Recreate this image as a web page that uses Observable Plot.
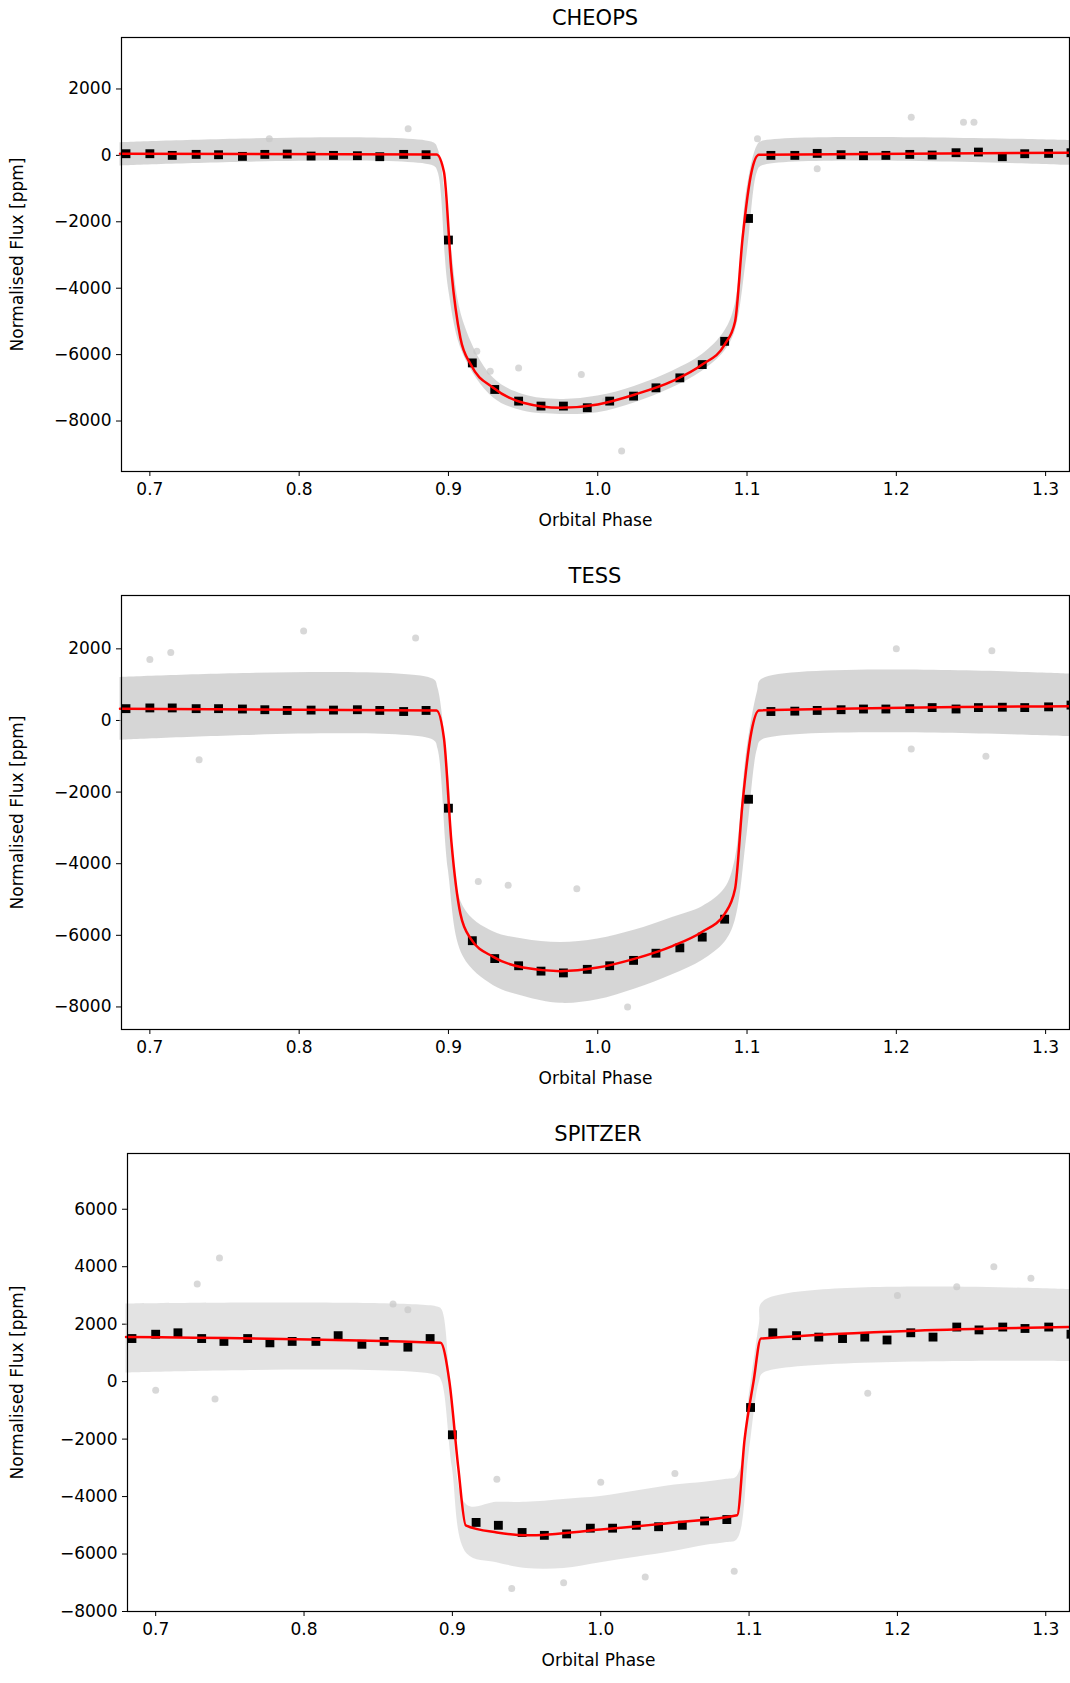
<!DOCTYPE html>
<html><head><meta charset="utf-8">
<script src="https://cdn.jsdelivr.net/npm/d3@7"></script>
<script src="https://cdn.jsdelivr.net/npm/@observablehq/plot@0.6"></script>
<style>body{margin:0;background:#fff;font-family:"DejaVu Sans",sans-serif}#c{width:1070px}svg{display:block}</style>
</head><body><div id="c"></div>
<script>
const binPhase=[0.684,0.700,0.715,0.731,0.746,0.762,0.777,0.792,0.808,0.823,0.839,0.854,0.870,0.885,0.900,0.916,0.931,0.947,0.962,0.977,0.993,1.008,1.024,1.039,1.055,1.070,1.085,1.101,1.116,1.132,1.147,1.163,1.178,1.193,1.209,1.224,1.240,1.255,1.271,1.286,1.302,1.317];
const cheopsBin=[50,50,0,30,20,-30,30,40,-20,0,-10,-40,30,20,-2550,-6250,-7050,-7400,-7550,-7550,-7600,-7400,-7250,-7000,-6700,-6300,-5600,-1900,0,0,60,20,-10,0,30,10,80,100,-40,50,60,80];
const tessBin=[330,350,350,330,330,320,300,280,290,290,300,280,250,280,-2450,-6150,-6650,-6850,-7000,-7050,-6950,-6850,-6700,-6500,-6350,-6050,-5550,-2200,250,260,280,300,320,320,330,360,320,360,370,360,380,430];
const spitzerBin=[1500,1650,1700,1500,1400,1500,1350,1400,1400,1600,1300,1400,1200,1500,-1850,-4900,-5000,-5250,-5350,-5300,-5100,-5100,-5000,-5050,-5000,-4850,-4800,-900,1700,1600,1550,1500,1550,1450,1700,1550,1900,1800,1900,1850,1900,1650];

const cheopsModelX=[0.68,0.892,0.897,0.902,0.908,0.915,0.93,0.95,0.975,1.0,1.025,1.05,1.07,1.085,1.092,1.097,1.103,1.108,1.316];
const cheopsModelY=[50,30,-500,-3500,-5500,-6300,-7000,-7450,-7600,-7500,-7200,-6800,-6300,-5700,-5000,-2500,-500,20,80];
const tessModelX=cheopsModelX;
const tessModelY=[330,280,-500,-3400,-5400,-6100,-6600,-6900,-7000,-6900,-6650,-6300,-5900,-5400,-4700,-2300,-300,280,400];
const spitzerModelX=[0.68,0.892,0.898,0.904,0.909,0.93,0.95,1.0,1.05,1.092,1.097,1.103,1.108,1.316];
const spitzerModelY=[1550,1350,0,-3000,-5000,-5250,-5350,-5150,-4900,-4650,-2000,0,1500,1900];

const bandX=[0.68,0.89,0.893,0.9,0.91,0.93,0.95,0.975,1.0,1.025,1.05,1.07,1.085,1.092,1.1,1.107,1.11,1.316];
const cheopsLo=[-320,-320,-500,-4000,-6000,-7300,-7700,-7800,-7750,-7450,-7000,-6500,-5900,-5300,-3000,-500,-320,-300];
const cheopsHi=[380,380,200,-2000,-5000,-6700,-7200,-7350,-7250,-6950,-6500,-6000,-5300,-4500,-1000,300,420,450];
const tessLo=[-550,-550,-800,-4200,-6600,-7400,-7700,-7900,-7800,-7500,-7100,-6700,-6200,-5600,-3200,-800,-550,-450];
const tessHi=[1200,1150,900,-1500,-5200,-5900,-6100,-6200,-6100,-5850,-5500,-5200,-4700,-3900,-800,800,1150,1300];
const spitzerLo=[300,200,0,-3000,-6000,-6300,-6500,-6500,-6300,-6100,-5900,-5700,-5600,-5500,-2500,0,300,700];
const spitzerHi=[2700,2600,2500,-1000,-4300,-4200,-4200,-4100,-4000,-3800,-3600,-3500,-3400,-3300,-500,2000,2800,3200];

const cheopsOutX=[0.780,0.873,0.919,0.928,0.947,0.989,1.005,1.016,1.210,1.245,1.252,1.107,1.147];
const cheopsOutY=[500,800,-5900,-6500,-6400,-6600,-7400,-8900,1150,1000,1000,500,-400];
const tessOutX=[0.714,0.7,0.803,0.878,0.733,0.92,0.94,0.986,1.02,1.2,1.264,1.21,1.26];
const tessOutY=[1900,1700,2500,2300,-1100,-4500,-4600,-4700,-8000,2000,1950,-800,-1000];
const spitzerOutX=[0.743,0.728,0.7,0.86,0.87,0.93,0.94,0.975,1.0,1.03,1.09,1.05,1.18,1.265,1.29,1.24,1.2,0.74];
const spitzerOutY=[4300,3400,-300,2700,2500,-3400,-7200,-7000,-3500,-6800,-6600,-3200,-400,4000,3600,3300,3000,-600];

const panels=[
 {title:"CHEOPS",h:557,mt:37,mb:86,ml:121,yd:[-9520,3550],yt:[2000,0,-2000,-4000,-6000,-8000],bin:cheopsBin,mx:cheopsModelX,my:cheopsModelY,lo:cheopsLo,hi:cheopsHi,ox:cheopsOutX,oy:cheopsOutY,op:0.75},
 {title:"TESS",h:557,mt:38,mb:85,ml:121,yd:[-8630,3490],yt:[2000,0,-2000,-4000,-6000,-8000],bin:tessBin,mx:tessModelX,my:tessModelY,lo:tessLo,hi:tessHi,ox:tessOutX,oy:tessOutY,op:0.75},
 {title:"SPITZER",h:569,mt:39,mb:72,ml:127,yd:[-8000,7940],yt:[6000,4000,2000,0,-2000,-4000,-6000,-8000],bin:spitzerBin,mx:spitzerModelX,my:spitzerModelY,lo:spitzerLo,hi:spitzerHi,ox:spitzerOutX,oy:spitzerOutY,op:0.5}
];
const xt=[0.7,0.8,0.9,1.0,1.1,1.2,1.3];
const yf=d=>d<0?"\u2212"+Math.abs(d):String(d);
for(const p of panels){
  const model=p.mx.map((x,i)=>({x,y:p.my[i]}));
  const band=bandX.map((x,i)=>({x,lo:p.lo[i],hi:p.hi[i]}));
  const bins=binPhase.map((x,i)=>({x,y:p.bin[i]}));
  const outs=p.ox.map((x,i)=>({x,y:p.oy[i]}));
  const svg=Plot.plot({
    width:1070,height:p.h,marginTop:p.mt,marginBottom:p.mb,marginLeft:p.ml,marginRight:1,
    style:{fontFamily:"DejaVu Sans",fontSize:"17px",color:"#000",background:"#fff"},
    x:{domain:[0.681,1.316],ticks:xt,tickFormat:d3.format(".1f"),label:"Orbital Phase",labelAnchor:"center",labelArrow:"none",labelOffset:54,tickSize:5,tickPadding:6},
    y:{domain:p.yd,ticks:p.yt,tickFormat:yf,label:"Normalised Flux [ppm]",labelAnchor:"center",labelArrow:"none",labelOffset:p.ml-10,tickSize:5,tickPadding:5},
    marks:[
      Plot.areaY(band,{x:"x",y1:"lo",y2:"hi",fill:"#c8c8c8",fillOpacity:p.op,curve:"catmull-rom"}),
      Plot.dot(outs,{x:"x",y:"y",r:3.5,fill:"#c8c8c8",fillOpacity:0.7}),
      Plot.dot(bins,{x:"x",y:"y",symbol:"square",r:5,fill:"#000"}),
      Plot.line(model,{x:"x",y:"y",stroke:"red",strokeWidth:2.5,curve:"monotone-x"}),
      Plot.frame({stroke:"#000",strokeWidth:1.2})
    ]
  });
  d3.select(svg).append("text").attr("x",p.ml+(1069-p.ml)/2).attr("y",p.mt-12).attr("text-anchor","middle")
    .attr("font-size","21px").attr("font-family","DejaVu Sans").text(p.title);
  document.getElementById("c").appendChild(svg);
}
</script></body></html>
